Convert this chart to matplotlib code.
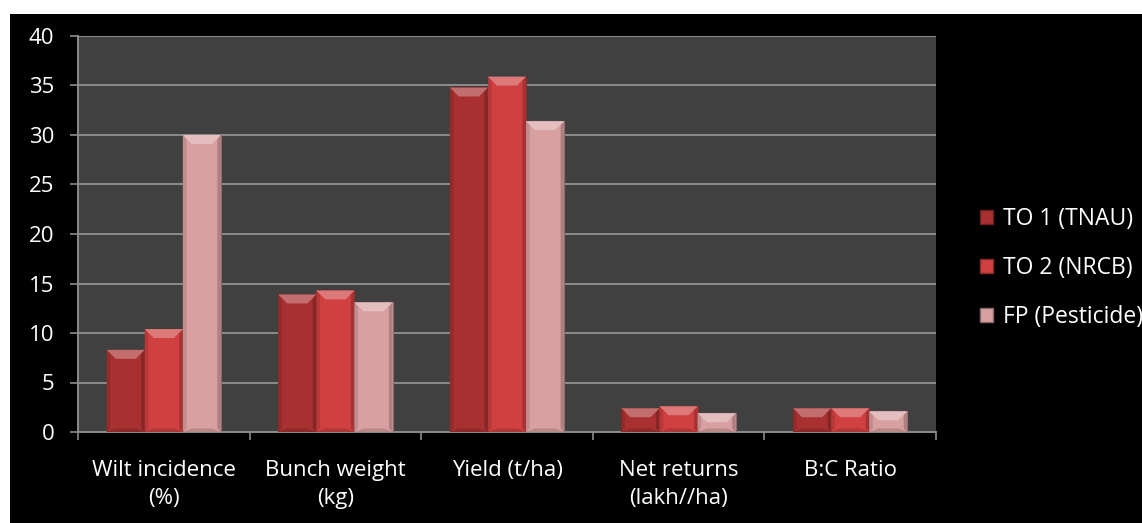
import numpy as np
import matplotlib
matplotlib.use('Agg')
import matplotlib.pyplot as plt
from matplotlib.patches import Rectangle, Polygon, Patch
from matplotlib.colors import to_rgb

plt.rcParams['font.family'] = ['Open Sans', 'DejaVu Sans']

# data
categories = ['Wilt incidence\n(%)', 'Bunch weight\n(kg)', 'Yield (t/ha)',
              'Net returns\n(lakh//ha)', 'B:C Ratio']
series = ['TO 1 (TNAU)', 'TO 2 (NRCB)', 'FP (Pesticide)']
to1 = [8.3, 13.9, 34.8, 2.4, 2.4]
to2 = [10.4, 14.3, 35.9, 2.6, 2.4]
fp = [30.0, 13.1, 31.4, 1.9, 2.1]
colors = ['#a83030', '#d04040', '#d9a0a2']

def shade(c, f):
    r = np.array(to_rgb(c))
    if f > 0:
        r = r + (1 - r) * f
    else:
        r = r * (1 + f)
    return tuple(np.clip(r, 0, 1))

fig = plt.figure(figsize=(11.42, 5.23), dpi=100, facecolor='white')
# black slide background (thin white border on top/left like the screenshot)
fig.patches.append(Rectangle((10 / 1142, 0), 1, 1 - 14 / 523, transform=fig.transFigure,
                             facecolor='black', edgecolor='none', zorder=-10))

ax = fig.add_axes([78 / 1142, 1 - 432 / 523, (936 - 78) / 1142, (432 - 36) / 523])
ax.set_facecolor('#404040')

x = np.arange(len(categories))
w = 0.222
vals = [to1, to2, fp]

ax.set_xlim(-0.5, len(categories) - 0.5)
ax.set_ylim(0, 40)
fig.canvas.draw()

# bevel size in data units (about 9 px)
px_x = 9 / (ax.transData.transform((1, 0))[0] - ax.transData.transform((0, 0))[0])
px_y = 9 / (ax.transData.transform((0, 1))[1] - ax.transData.transform((0, 0))[1])

for i, (v, c) in enumerate(zip(vals, colors)):
    xs = x + (i - 1) * w
    bars = ax.bar(xs, v, width=w, color=c, edgecolor=shade(c, -0.35), linewidth=0.8, zorder=3)
    for b in bars:
        x0, x1 = b.get_x(), b.get_x() + b.get_width()
        h = b.get_height()
        d = min(px_y, h / 2)
        top = Polygon([(x0, h), (x1, h), (x1 - px_x, h - d), (x0 + px_x, h - d)],
                      closed=True, facecolor=shade(c, 0.3), edgecolor='none', zorder=4)
        bot = Polygon([(x0, 0), (x1, 0), (x1 - px_x, d * 0.4), (x0 + px_x, d * 0.4)],
                      closed=True, facecolor=shade(c, -0.15), edgecolor='none', zorder=4)
        left = Polygon([(x0, 0), (x0 + px_x * 0.4, d * 0.4), (x0 + px_x * 0.4, h - d * 0.4), (x0, h)],
                       closed=True, facecolor=shade(c, -0.12), edgecolor='none', zorder=4)
        right = Polygon([(x1, 0), (x1 - px_x * 0.4, d * 0.4), (x1 - px_x * 0.4, h - d * 0.4), (x1, h)],
                        closed=True, facecolor=shade(c, -0.2), edgecolor='none', zorder=4)
        ax.add_patch(bot)
        ax.add_patch(left)
        ax.add_patch(right)
        ax.add_patch(top)

ax.set_yticks(np.arange(0, 41, 5))
ax.yaxis.grid(True, color='#8c8c8c', linewidth=1.4, zorder=1)
ax.set_axisbelow(True)

ax.set_xticks(x)
ax.set_xticklabels(categories, linespacing=1.45)
ax.set_xticks(np.arange(-0.5, len(categories)), minor=True)
ax.tick_params(axis='x', which='major', length=0, pad=20, labelsize=16, colors='white')
ax.tick_params(axis='x', which='minor', length=6, width=1.2, color='#8c8c8c', direction='out')
ax.tick_params(axis='y', length=6, width=1.2, color='#8c8c8c', labelsize=16,
               labelcolor='white', pad=11)

for s in ['top', 'right']:
    ax.spines[s].set_visible(False)
for s in ['left', 'bottom']:
    ax.spines[s].set_color('#8c8c8c')
    ax.spines[s].set_linewidth(1.4)

handles = [Patch(facecolor=c, edgecolor=shade(c, -0.35)) for c in colors]
leg = fig.legend(handles, series, loc='center left', bbox_to_anchor=(980 / 1142, 1 - 268 / 523),
                 frameon=False, fontsize=16.5, labelcolor='white', handlelength=0.55,
                 handleheight=0.55, handletextpad=0.45, labelspacing=1.08, borderaxespad=0,
                 borderpad=0)

fig.savefig('out.png', dpi=100, facecolor=fig.get_facecolor())
